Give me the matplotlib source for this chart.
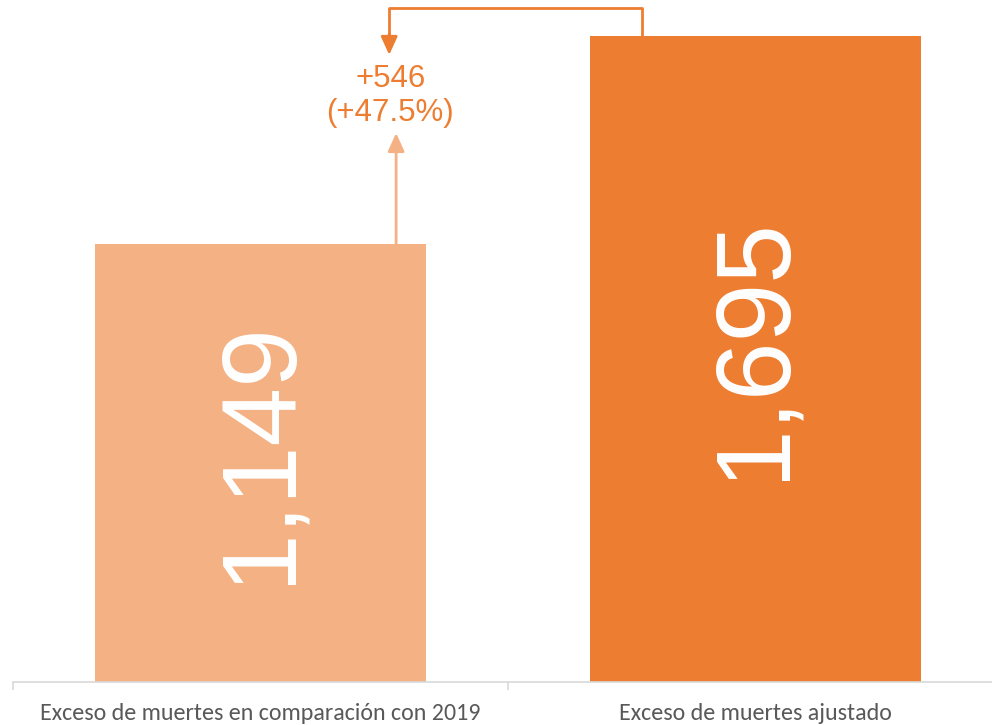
import matplotlib
matplotlib.use("Agg")
import matplotlib.pyplot as plt
from matplotlib.ticker import FixedLocator

categories = ["Exceso de muertes en comparación con 2019", "Exceso de muertes ajustado"]
values = [1149, 1695]
colors = ["#F4B183", "#ED7D31"]

diff = values[1] - values[0]
pct = diff / values[0] * 100

W, H = 992, 725
fig = plt.figure(figsize=(W / 100, H / 100), dpi=100)
ax = fig.add_axes([13 / W, (H - 682) / H, 990 / W, 682 / H])

x = list(range(len(categories)))
ax.bar(x, values, width=0.67, color=colors, zorder=2)
ax.set_xlim(-0.5, 1.5)
ax.set_ylim(0, 1789)

for xi, v in zip(x, values):
    ax.text(xi, v / 2 + 28, f"{v:,}", rotation=90, ha="center", va="center",
            color="white", fontsize=76, family=["Liberation Sans", "Arimo", "DejaVu Sans"])

for s in ["top", "right", "left"]:
    ax.spines[s].set_visible(False)
ax.spines["bottom"].set_color("#D9D9D9")
ax.spines["bottom"].set_linewidth(1.2)
ax.set_yticks([])
ax.set_xticks(x)
ax.set_xticklabels(categories, fontsize=17.3, color="#595959",
                   family=["Carlito", "DejaVu Sans"])
ax.tick_params(axis="x", which="major", length=0, pad=15)
ax.xaxis.set_minor_locator(FixedLocator([-0.5, 0.5, 1.5]))
ax.tick_params(axis="x", which="minor", length=6, color="#D9D9D9", width=1.2)

dark = "#ED7D31"
light = "#F4B183"
# bracket arrow from right bar to annotation
ax.plot([0.771, 0.771, 0.26, 0.26], [values[1], 1768, 1768, 1690],
        color=dark, lw=2, solid_capstyle="butt", zorder=3)
ax.annotate("", xy=(0.26, 1645), xytext=(0.26, 1700),
            arrowprops=dict(arrowstyle="-|>,head_length=1.1,head_width=0.5",
                            color=dark, lw=2, shrinkA=0, shrinkB=0))
# arrow from left bar upward
ax.annotate("", xy=(0.274, 1440), xytext=(0.274, values[0]),
            arrowprops=dict(arrowstyle="-|>,head_length=1.1,head_width=0.5",
                            color=light, lw=2, shrinkA=0, shrinkB=0))

ax.text(0.262, 1582, f"+{diff:,}", ha="center", va="center", color=dark,
        fontsize=22.5, family=["Liberation Sans", "Arimo", "DejaVu Sans"])
ax.text(0.262, 1493, f"(+{pct:.1f}%)", ha="center", va="center", color=dark,
        fontsize=22.5, family=["Liberation Sans", "Arimo", "DejaVu Sans"])

fig.savefig("out.png", dpi=100)
